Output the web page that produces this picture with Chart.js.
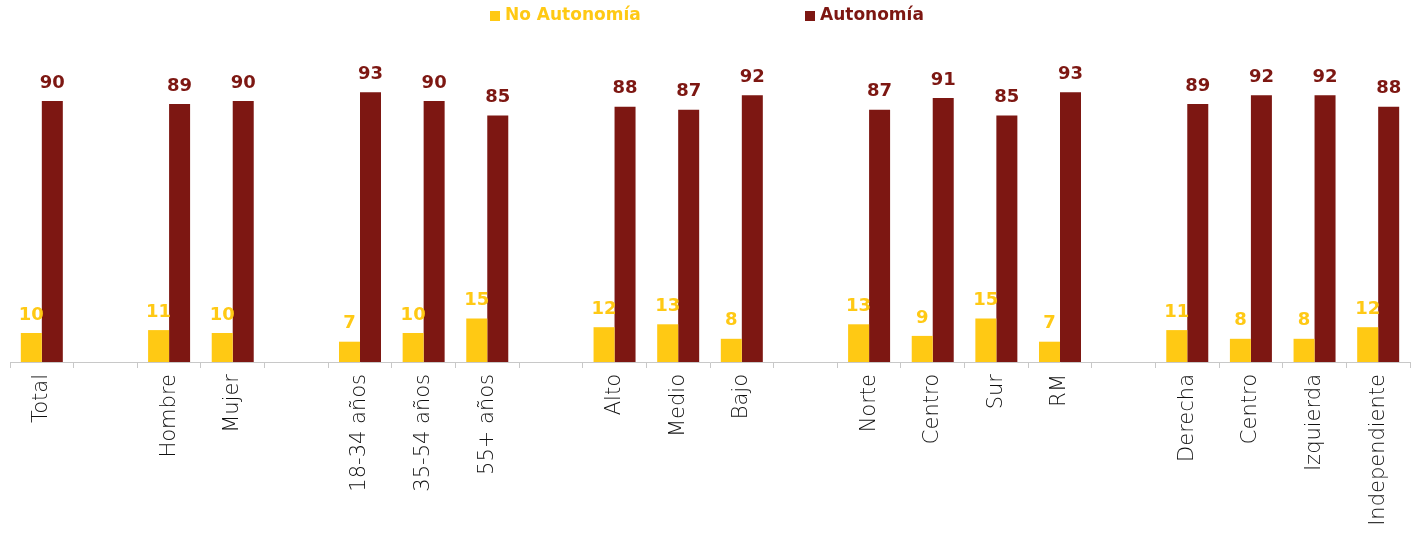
<!DOCTYPE html>
<html><head><meta charset="utf-8">
<script src="https://cdn.jsdelivr.net/npm/chart.js@4"></script>
<style>html,body{margin:0;padding:0;background:#fff}#wrap{width:1416px;height:541px}</style>
</head><body><div id="wrap"><canvas id="c" width="1416" height="541"></canvas></div>
<script>
const categories = ["Total","","Hombre","Mujer","","18-34 años","35-54 años","55+ años","","Alto","Medio","Bajo","","Norte","Centro","Sur","RM","","Derecha","Centro","Izquierda","Independiente"];
const noAutonomia = [10,null,11,10,null,7,10,15,null,12,13,8,null,13,9,15,7,null,11,8,8,12];
const autonomia   = [90,null,89,90,null,93,90,85,null,88,87,92,null,87,91,85,93,null,89,92,92,88];
const seriesNames = ["No Autonomía","Autonomía"];
const colors = ["#FFC914","#7D1712"];

const valueLabels = {
  id:'valueLabels',
  afterDatasetsDraw(chart){
    const ctx = chart.ctx;
    ctx.save();
    ctx.font = "bold 18px 'DejaVu Sans'";
    ctx.textAlign = 'center';
    ctx.textBaseline = 'bottom';
    chart.data.datasets.forEach((ds,i)=>{
      const meta = chart.getDatasetMeta(i);
      ctx.fillStyle = ds.backgroundColor;
      meta.data.forEach((bar,j)=>{
        const v = ds.data[j];
        if(v===null||v===undefined) return;
        ctx.fillText(String(v), bar.x, bar.y - 9);
      });
    });
    ctx.restore();
  }
};
const topLegend = {
  id:'topLegend',
  afterDraw(chart){
    const ctx = chart.ctx;
    ctx.save();
    ctx.font = "bold 17px 'DejaVu Sans'";
    ctx.textBaseline = 'middle';
    const box = 10, gapBox = 5, itemStep = 315;
    let x = chart.width/2 - 218;
    const y = 16;
    seriesNames.forEach((n,i)=>{
      ctx.fillStyle = colors[i];
      ctx.fillRect(x, y-box/2, box, box);
      ctx.fillText(n, x+box+gapBox, y);
      x += itemStep;
    });
    ctx.restore();
  }
};

new Chart(document.getElementById('c'), {
  type:'bar',
  data:{
    labels: categories,
    datasets:[
      {label:seriesNames[0], data:noAutonomia, backgroundColor:colors[0], borderWidth:0, barPercentage:1, categoryPercentage:0.66},
      {label:seriesNames[1], data:autonomia, backgroundColor:colors[1], borderWidth:0, barPercentage:1, categoryPercentage:0.66}
    ]
  },
  options:{
    responsive:false, animation:false, devicePixelRatio:1,
    layout:{padding:{left:10,right:6,top:72,bottom:0}},
    plugins:{legend:{display:false}, tooltip:{enabled:false}},
    scales:{
      x:{
        grid:{display:true, drawOnChartArea:false, drawTicks:true, tickLength:6, color:'#c8c8c8', offset:true},
        border:{display:true, color:'#c8c8c8', width:1},
        ticks:{autoSkip:false, minRotation:90, maxRotation:90, padding:6, color:'#111',
               font:{family:"'DejaVu Sans'", size:21, weight:'200'}},
        afterFit(scale){ scale.height = 179; }
      },
      y:{display:false, min:0, max:100}
    }
  },
  plugins:[valueLabels, topLegend]
});
</script></body></html>
